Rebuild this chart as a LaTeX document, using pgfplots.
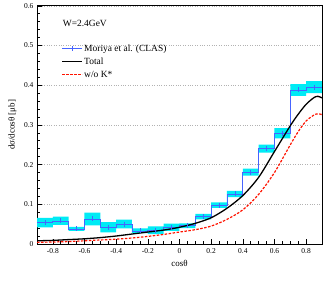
\documentclass[border=0pt]{standalone}
\usepackage{pgfplots}
\pgfplotsset{compat=1.18}
\usepgfplotslibrary{fillbetween}
\usepackage{fontspec}
\setmainfont{Liberation Serif}
\definecolor{bandcyan}{RGB}{0,235,245}
\definecolor{datblue}{RGB}{70,100,255}
\begin{document}
\begin{tikzpicture}
\begin{axis}[
  scale only axis, width=285bp, height=238.1bp,
  at={(0,0)}, anchor=south west,
  xmin=-0.9, xmax=0.9, ymin=0, ymax=0.6,
  xtick={-0.8,-0.6,...,0.81}, ytick={0,0.1,...,0.61},
  minor x tick num=3, minor y tick num=4,
  xticklabels={-0.8,-0.6,-0.4,-0.2,0,0.2,0.4,0.6,0.8},
  yticklabels={0,0.1,0.2,0.3,0.4,0.5,0.6},
  tick align=inside, tick pos=left,
  major tick length=5bp, minor tick length=2.5bp,
  tick style={black, line width=0.6pt},
  axis line style={line width=0.8pt},
  ymajorgrids, grid style={gray!60, dotted, line width=0.5pt},
  /pgf/number format/assume math mode=true,
  tick label style={font=\fontsize{7.5}{9}\selectfont},
  xlabel={cosθ}, ylabel={dσ/dcosθ [μb]},
  label style={font=\fontsize{9}{11}\selectfont},
  xlabel style={at={(axis description cs:0.5,0)}, anchor=north, yshift=-13bp},
  ylabel style={at={(axis description cs:0,0.5)}, anchor=south, yshift=17bp},
  xticklabel style={yshift=-1bp},
  legend style={at={(0.085,0.845)}, anchor=north west, draw=none, fill=none,
    font=\fontsize{9.5}{11}\selectfont, inner sep=0pt, row sep=2.2bp,
    legend cell align=left, nodes={inner sep=1.5pt}},
  legend image code/.code={\draw[#1] (0bp,0bp) -- (20bp,0bp);},
  clip=true,
]
% error band
\addplot[name path=up, draw=none, const plot mark left, forget plot] coordinates {
(-0.9,0.066)(-0.8,0.069)(-0.7,0.043)(-0.6,0.079)(-0.5,0.055)(-0.4,0.061)(-0.3,0.039)(-0.2,0.044)(-0.1,0.051)
(0,0.052)(0.1,0.076)(0.2,0.105)(0.3,0.134)(0.4,0.190)(0.5,0.250)(0.6,0.292)(0.7,0.403)(0.8,0.410)(0.9,0.410)};
\addplot[name path=lo, draw=none, const plot mark left, forget plot] coordinates {
(-0.9,0.042)(-0.8,0.048)(-0.7,0.033)(-0.6,0.047)(-0.5,0.029)(-0.4,0.039)(-0.3,0.027)(-0.2,0.025)(-0.1,0.033)
(0,0.040)(0.1,0.062)(0.2,0.091)(0.3,0.118)(0.4,0.172)(0.5,0.230)(0.6,0.266)(0.7,0.373)(0.8,0.380)(0.9,0.380)};
\addplot[bandcyan, forget plot] fill between[of=up and lo];
% step line
\addplot[datblue, line width=0.7pt, const plot mark left, forget plot] coordinates {
(-0.9,0.054)(-0.8,0.058)(-0.7,0.038)(-0.6,0.063)(-0.5,0.042)(-0.4,0.050)(-0.3,0.033)(-0.2,0.034)(-0.1,0.042)
(0,0.046)(0.1,0.069)(0.2,0.098)(0.3,0.126)(0.4,0.181)(0.5,0.240)(0.6,0.279)(0.7,0.388)(0.8,0.395)(0.9,0.395)};
% center marks
\addplot[datblue, only marks, mark=|, mark size=2.5bp, mark options={line width=0.6pt}, forget plot] coordinates {
(-0.85,0.054)(-0.75,0.058)(-0.65,0.038)(-0.55,0.063)(-0.45,0.042)(-0.35,0.050)(-0.25,0.033)(-0.15,0.034)(-0.05,0.042)
(0.05,0.046)(0.15,0.069)(0.25,0.098)(0.35,0.126)(0.45,0.181)(0.55,0.240)(0.65,0.279)(0.75,0.388)(0.85,0.395)};
% Total
\addplot[black, line width=1.3pt, smooth, forget plot] coordinates {
(-0.9,0.008)(-0.8,0.009)(-0.7,0.011)(-0.6,0.013)(-0.5,0.016)(-0.4,0.020)(-0.3,0.025)(-0.2,0.030)(-0.1,0.035)
(0,0.042)(0.1,0.052)(0.2,0.066)(0.3,0.090)(0.4,0.122)(0.5,0.168)(0.6,0.233)(0.7,0.298)(0.75,0.327)(0.8,0.352)(0.85,0.369)(0.875,0.372)(0.9,0.368)};
% w/o K*
\addplot[red!85!orange, line width=1.2pt, dash pattern=on 2.5bp off 1.5bp, smooth, forget plot] coordinates {
(-0.9,0.004)(-0.8,0.005)(-0.7,0.006)(-0.6,0.008)(-0.5,0.010)(-0.4,0.012)(-0.3,0.015)(-0.2,0.019)(-0.1,0.024)
(0,0.030)(0.1,0.036)(0.2,0.045)(0.3,0.062)(0.4,0.086)(0.5,0.125)(0.6,0.180)(0.7,0.250)(0.75,0.283)(0.8,0.310)(0.85,0.325)(0.875,0.328)(0.9,0.326)};
\addlegendimage{legend image code/.code={\draw[datblue, line width=0.7pt] (0bp,0bp) -- (20bp,0bp); \draw[datblue, line width=0.6pt] (10bp,-2.5bp) -- (10bp,2.5bp);}}
\addlegendentry{Moriya et al. (CLAS)}
\addlegendimage{black, line width=1.3pt}
\addlegendentry{Total}
\addlegendimage{red!85!orange, line width=1.2pt, dash pattern=on 2.5bp off 1.5bp}
\addlegendentry{w/o K*}
\node[anchor=west, font=\fontsize{9.5}{11}\selectfont, inner sep=0pt] at (rel axis cs:0.09,0.928) {W=2.4GeV};
\end{axis}
\path (-37bp,-37.6bp) rectangle (290bp,242.4bp);
\end{tikzpicture}
\end{document}
